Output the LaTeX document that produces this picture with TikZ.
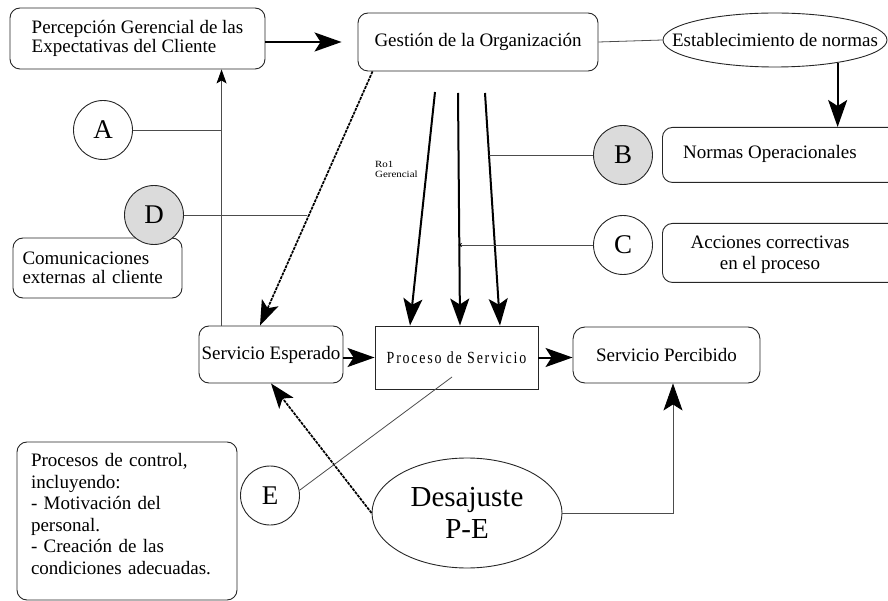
\documentclass[tikz,border=0pt]{standalone}
\usepackage{fontspec}
\setmainfont{Liberation Serif}
\newfontfamily\spacedfont[LetterSpace=10.6,FakeStretch=0.82]{Liberation Serif}
\newfontfamily\widefont[FakeStretch=1.15]{Liberation Serif}
\usetikzlibrary{arrows.meta,shapes.geometric,calc}

\begin{document}
\begin{tikzpicture}[x=1pt,y=-1pt,
  every node/.style={font=\fontsize{19}{19}\selectfont},
  box/.style={draw=black!85, line width=0.9pt, rounded corners=10pt, inner sep=0pt},
  sqbox/.style={draw=black!85, line width=0.9pt, inner sep=0pt},
  oval/.style={ellipse, draw=black!85, line width=0.9pt, inner sep=0pt},
  gap/.style={circle, draw=black!85, line width=0.9pt, minimum size=59pt,
    inner sep=0pt, font=\fontsize{27}{27}\selectfont},
  shaded/.style={fill=black!14},
  link/.style={draw=black!70, line width=0.8pt},
  bigtip/.style={-{Stealth[length=27pt,width=19pt,inset=6pt,color=black]}},
  flow/.style={line width=2pt, bigtip},
  dotflow/.style={line width=1.7pt, dash pattern=on 3pt off 1pt,
    -{Stealth[length=25pt,width=18pt,inset=6pt]}},
]
\useasboundingbox (0,0) rectangle (888,601);

% --- top row ---
\node[box, minimum width=255pt, minimum height=61pt, align=left] (perc) at (137.5,38.5)
  {Percepción Gerencial de las\\Expectativas del Cliente};
\node[box, minimum width=240pt, minimum height=58pt] (gest) at (478,42)
  {Gestión de la Organización};
\node[oval, minimum width=224pt, minimum height=54pt] (estab) at (775,40)
  {\makebox[0pt]{Establecimiento de normas}};

% --- right column ---
\node[box, anchor=north west, minimum width=252pt, minimum height=55pt] (normas) at (662,127) {};
\node[anchor=base west, inner sep=0pt] (normastext) at (683,159) {Normas Operacionales};
\node[box, anchor=north west, minimum width=252pt, minimum height=59pt] (acc) at (662,223) {};
\node[align=center, inner sep=0pt, font=\fontsize{19}{21}\selectfont] (acctext) at (770,255)
  {Acciones correctivas\\en el proceso};

% --- left column ---
\node[box, minimum width=169pt, minimum height=60pt, text width=150pt, align=left] (com) at (97.5,268)
  {Comunicaciones\\externas al cliente};
\node[box, minimum width=220pt, minimum height=158pt] (ctrl) at (127,521) {};
\node[text width=192pt, align=left, inner sep=0pt, font=\fontsize{19}{21.6}\selectfont] (ctrltext) at (127,514)
  {Procesos de control,\\incluyendo:\\- Motivación del\\personal.\\- Creación de las\\condiciones adecuadas.};

% --- service chain ---
\node[box, minimum width=144pt, minimum height=57pt] (esp) at (271,354.5) {Servicio Esperado};
\node[sqbox, minimum width=163pt, minimum height=63pt,
  font=\spacedfont\fontsize{17}{17}\selectfont] (proc) at (456.5,357.5) {Proceso de Servicio};
\node[box, rounded corners=12pt, minimum width=187pt, minimum height=56pt] (perc2) at (666.5,355)
  {Servicio Percibido};
\node[oval, minimum width=190pt, minimum height=110pt, align=center,
  font=\fontsize{29}{32}\selectfont] (desaj) at (467,513) {Desajuste\\P-E};

% --- gap markers ---
\node[gap] (A) at (103,130) {A};
\node[gap, shaded] (B) at (623,155) {B};
\node[gap] (C) at (623,245) {C};
\node[gap, shaded] (D) at (154,215) {D};
\node[gap] (E) at (270,495.5) {E};

\node[anchor=north west, align=left, inner sep=0pt,
  font=\widefont\fontsize{9.5}{10}\selectfont] (rol) at (375,161) {Ro1\\Gerencial};

% --- connectors ---
\draw[flow, shorten >=16pt] (perc.east |- gest.west) -- (gest.west);
\draw[link] (gest.east) -- (estab.west);
\draw[flow] (estab.-20) -- (estab.-20 |- normas.north);

\coordinate (r1) at (435,92);
\coordinate (r2) at (458,93);
\coordinate (r3) at (485,93);
\draw[flow] (r1) -- ([xshift=-46.5pt]proc.north);
\draw[flow] (r2) -- ([xshift=3.5pt]proc.north);
\draw[flow] (r3) -- ([xshift=43.5pt]proc.north);

\draw[dotflow] ([xshift=15pt]gest.south west) -- ([xshift=-11pt]esp.north);

\coordinate (vb) at ([xshift=23pt]esp.north west);
\draw[link, -{Stealth[length=14pt,width=10pt,inset=3pt,color=black]}] (vb) -- (vb |- perc.south);
\draw[link] (A) -- (A -| vb);

\coordinate (dend) at (307,215);
\draw[link] (D) -- (dend);
\coordinate (bend) at (489,155);
\draw[link] (B) -- (bend);
\coordinate (cend) at (458,245);
\draw[link, -{Stealth[length=4pt,width=4pt,color=black]}] (C) -- (cend);

\draw[flow] (esp.east |- proc.west) -- (proc.west);
\draw[flow] (proc.east) -- (proc.east -| perc2.west);
\draw[link, bigtip] (desaj.east) -| ([xshift=6.5pt]perc2.south);
\draw[dotflow] (desaj.west) -- (esp.south);

\coordinate (eend) at (452,377);
\draw[link] (E.10) -- (eend);
\end{tikzpicture}
\end{document}
